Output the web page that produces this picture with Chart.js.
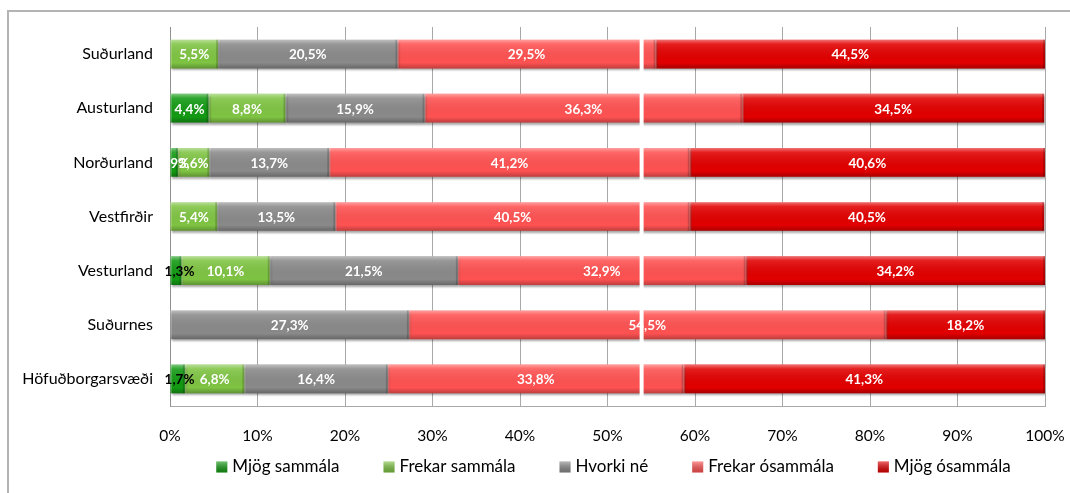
<!DOCTYPE html>
<html>
<head>
<meta charset="utf-8">
<script src="https://cdn.jsdelivr.net/npm/chart.js@4"></script>
<style>
  html, body { margin: 0; padding: 0; background: #fff; overflow: hidden; }
  #frame { position: absolute; left: 7px; top: 10px; width: 2000px; height: 2000px;
           border-left: 2px solid #b4b4b4; border-top: 2px solid #b4b4b4; }
  #chart { position: absolute; left: 0; top: 0; }
</style>
</head>
<body>
<div id="frame"></div>
<canvas id="chart" width="1070" height="493"></canvas>
<script>
const regions = ["Suðurland", "Austurland", "Norðurland", "Vestfirðir", "Vesturland", "Suðurnes", "Höfuðborgarsvæði"];

const seriesNames = ["Mjög sammála", "Frekar sammála", "Hvorki né", "Frekar ósammála", "Mjög ósammála"];
const seriesColors = ["#139a13", "#7fc443", "#8a8a8a", "#ff5252", "#e20000"];

const mjogSammala = [0, 4.4, 0.9, 0, 1.3, 0, 1.7];
const frekarSammala = [5.5, 8.8, 3.6, 5.4, 10.1, 0, 6.8];
const hvorkiNe = [20.5, 15.9, 13.7, 13.5, 21.5, 27.3, 16.4];
const frekarOsammala = [29.5, 36.3, 41.2, 40.5, 32.9, 54.5, 33.8];
const mjogOsammala = [44.5, 34.5, 40.6, 40.5, 34.2, 18.2, 41.3];

const xTicks = [0, 10, 20, 30, 40, 50, 60, 70, 80, 90, 100];

// labels on these regions' first series sit outside the thin bar, drawn black
const blackLabelRegions = ["Vesturland", "Höfuðborgarsvæði"];

// the white cut line through the bars
const cutValue = 53.9;

const FONT = "Lato";
const fmt = v => v.toFixed(1).replace(".", ",") + "%";

const allSeries = [mjogSammala, frekarSammala, hvorkiNe, frekarOsammala, mjogOsammala];

const barLook = {
  id: "barLook",
  beforeDatasetsDraw(chart) {
    const ctx = chart.ctx;
    ctx.save();
    ctx.shadowColor = "rgba(0,0,0,0.35)";
    ctx.shadowOffsetY = 2;
    ctx.shadowOffsetX = 1;
    ctx.shadowBlur = 2;
  },
  afterDatasetsDraw(chart) {
    const ctx = chart.ctx;
    ctx.restore();

    // bevel: light top edge, dark bottom and right edge
    chart.data.datasets.forEach((ds, i) => {
      chart.getDatasetMeta(i).data.forEach(el => {
        const p = el.getProps(["x", "y", "base", "height"], true);
        const left = Math.min(p.x, p.base), w = Math.abs(p.x - p.base);
        if (w < 0.5) return;
        const top = p.y - p.height / 2, h = p.height;
        ctx.save();
        let g = ctx.createLinearGradient(0, top, 0, top + h);
        g.addColorStop(0, "rgba(255,255,255,0.45)");
        g.addColorStop(0.15, "rgba(255,255,255,0.12)");
        g.addColorStop(0.8, "rgba(0,0,0,0)");
        g.addColorStop(1, "rgba(0,0,0,0.25)");
        ctx.fillStyle = g;
        ctx.fillRect(left, top, w, h);
        ctx.fillStyle = "rgba(0,0,0,0.18)";
        ctx.fillRect(left + w - Math.min(2, w), top, Math.min(2, w), h);
        ctx.fillStyle = "rgba(255,255,255,0.2)";
        ctx.fillRect(left, top, Math.min(1.5, w), h);
        ctx.restore();
      });
    });

    // value labels
    ctx.save();
    ctx.font = "bold 13.5px " + FONT;
    ctx.textAlign = "center";
    ctx.textBaseline = "middle";
    chart.data.datasets.forEach((ds, i) => {
      chart.getDatasetMeta(i).data.forEach((el, j) => {
        const v = ds.data[j];
        if (!v) return;
        const p = el.getProps(["x", "y", "base"], true);
        let cx = (p.x + p.base) / 2;
        let color = "#fff";
        if (i === 0 && blackLabelRegions.includes(regions[j])) {
          color = "#000";
          cx = p.base + 9;
        }
        ctx.fillStyle = color;
        ctx.fillText(fmt(v), cx, p.y + 1);
      });
    });
    ctx.restore();

    // white cut line
    const xs = chart.scales.x, area = chart.chartArea;
    const cx = xs.getPixelForValue(cutValue);
    ctx.save();
    ctx.strokeStyle = "#fff";
    ctx.lineWidth = 4;
    ctx.beginPath();
    ctx.moveTo(cx, area.top + 9);
    ctx.lineTo(cx, area.bottom - 6);
    ctx.stroke();
    ctx.restore();
  },
  afterDraw(chart) {
    // legend below the axis, spaced like the original
    const ctx = chart.ctx, area = chart.chartArea;
    ctx.save();
    ctx.font = "17px " + FONT;
    ctx.textBaseline = "middle";
    const box = 11, gap = 5, spacing = 44;
    const widths = seriesNames.map(n => box + gap + ctx.measureText(n).width);
    const total = widths.reduce((a, b) => a + b, 0) + spacing * (widths.length - 1);
    let x = (area.left + area.right) / 2 + 6 - total / 2;
    const y = area.bottom + 61;
    seriesNames.forEach((n, i) => {
      ctx.fillStyle = seriesColors[i];
      ctx.fillRect(x, y - box / 2, box, box);
      const g = ctx.createLinearGradient(0, y - box / 2, 0, y + box / 2);
      g.addColorStop(0, "rgba(255,255,255,0.4)");
      g.addColorStop(1, "rgba(0,0,0,0.2)");
      ctx.fillStyle = g;
      ctx.fillRect(x, y - box / 2, box, box);
      ctx.fillStyle = "#000";
      ctx.fillText(n, x + box + gap, y);
      x += widths[i] + spacing;
    });
    ctx.restore();
  }
};

new Chart(document.getElementById("chart"), {
  type: "bar",
  data: {
    labels: regions,
    datasets: seriesNames.map((name, i) => ({
      label: name,
      data: allSeries[i],
      backgroundColor: seriesColors[i],
      borderWidth: 0,
      barPercentage: 0.53,
      categoryPercentage: 1
    }))
  },
  options: {
    indexAxis: "y",
    responsive: false,
    devicePixelRatio: 1,
    animation: false,
    layout: { padding: { top: 27, right: 25, left: 0, bottom: 0 } },
    plugins: {
      legend: { display: false },
      tooltip: { enabled: false }
    },
    scales: {
      x: {
        stacked: true,
        min: 0,
        max: 100,
        afterBuildTicks: scale => { scale.ticks = xTicks.map(v => ({ value: v })); },
        afterFit: scale => {
          scale.height = 87;
          scale.paddingLeft = 0;
          scale.paddingRight = 0;
        },
        ticks: {
          padding: 21,
          color: "#000",
          font: { family: FONT, size: 15.5 },
          callback: v => v + "%"
        },
        grid: { color: "#a8a8a8", drawTicks: false },
        border: { color: "#a8a8a8" }
      },
      y: {
        stacked: true,
        afterFit: scale => { scale.width = 170; },
        ticks: {
          padding: 17,
          color: "#000",
          font: { family: FONT, size: 16 }
        },
        grid: { display: false, drawTicks: false },
        border: { color: "#909090" }
      }
    }
  },
  plugins: [barLook]
});
</script>
</body>
</html>
